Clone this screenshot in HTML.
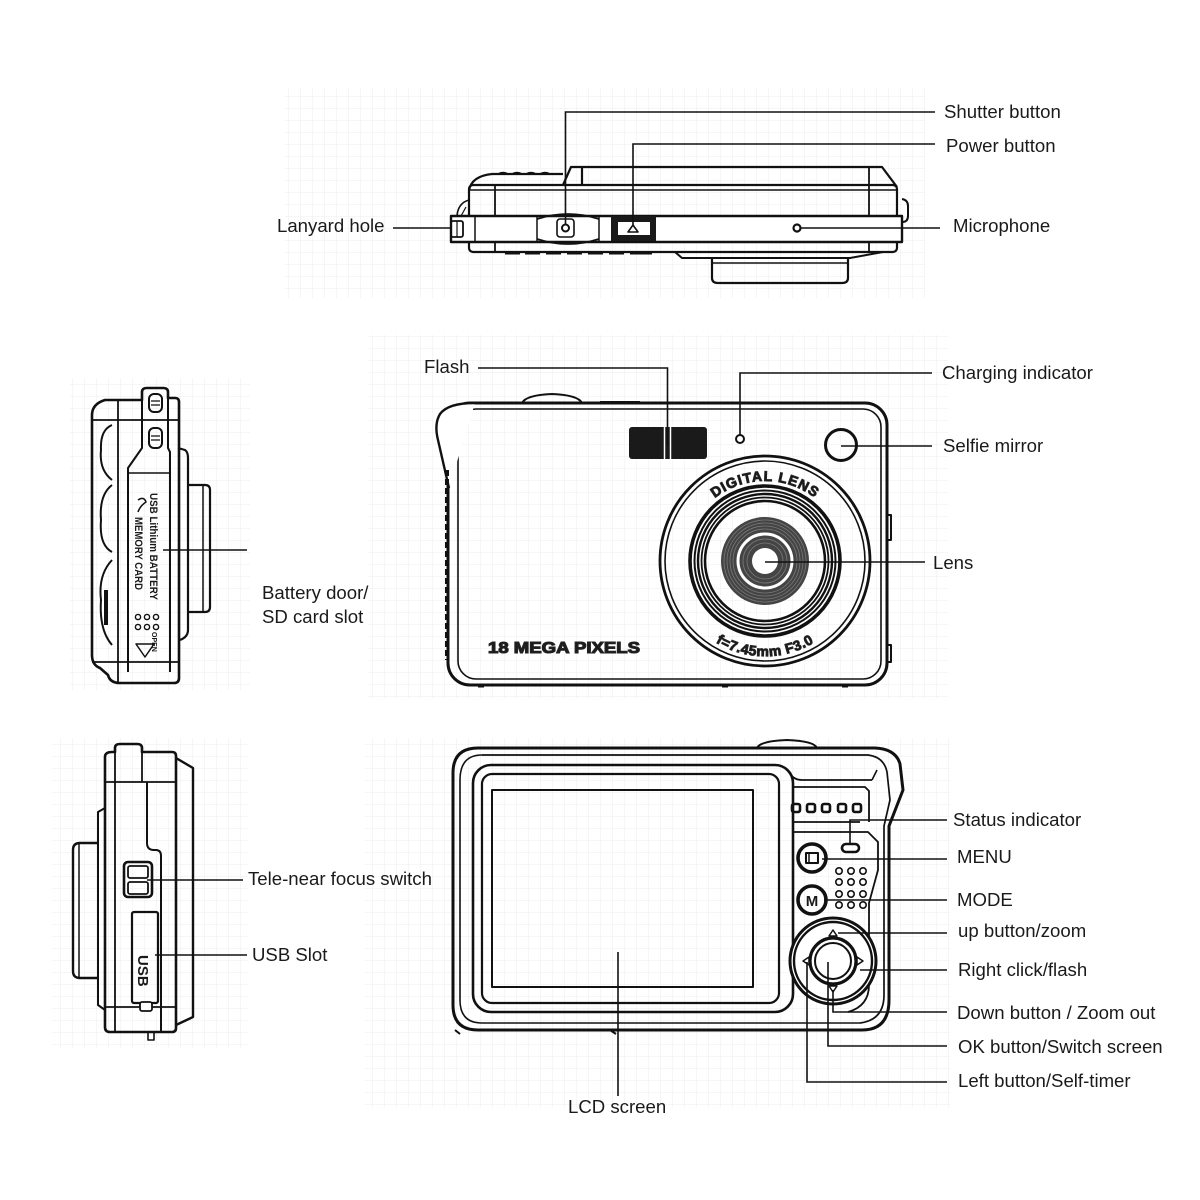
<!DOCTYPE html>
<html><head><meta charset="utf-8"><style>
html,body{margin:0;padding:0;background:#fff;}
svg{display:block;}
text{font-family:"Liberation Sans",Arial,sans-serif;fill:#1a1a1a;}
.lb{font-size:18.6px;}
</style></head><body>
<svg width="1200" height="1200" viewBox="0 0 1200 1200" xmlns="http://www.w3.org/2000/svg">
<defs>
<pattern id="g" width="12" height="12" patternUnits="userSpaceOnUse">
<path d="M12 0 L0 0 0 12" fill="none" stroke="#ececec" stroke-width="1"/>
</pattern>
</defs>
<rect width="1200" height="1200" fill="#fff"/>
<rect x="285" y="88" width="640" height="210" fill="url(#g)"/>
<rect x="368" y="335" width="580" height="363" fill="url(#g)"/>
<rect x="70" y="378" width="180" height="312" fill="url(#g)"/>
<rect x="365" y="738" width="585" height="370" fill="url(#g)"/>
<rect x="52" y="738" width="196" height="310" fill="url(#g)"/>

<!-- ============ TOP VIEW ============ -->
<g stroke="#111" stroke-width="2.2" fill="none" stroke-linejoin="round">
  <path d="M563 185 L571 167 L882 167 L897 187"/>
  <line x1="582" y1="167" x2="582" y2="185"/>
  <path d="M469 190 Q472 176 492 174 L563 174"/>
  <path d="M498 174 Q503 171 508 174 M512 174 Q517 171 522 174 M526 174 Q531 171 536 174 M540 174 Q545 171 550 174" stroke-width="1.6"/>
  <rect x="469" y="185" width="428" height="67" rx="4"/>
  <line x1="469" y1="190" x2="897" y2="190" stroke-width="1.5"/>
  <line x1="495" y1="185" x2="495" y2="252" stroke-width="1.8"/>
  <line x1="869" y1="167" x2="869" y2="252" stroke-width="1.8"/>
  <path d="M469 200 Q458 203 457 216" stroke-width="1.6"/>
  <path d="M466 207 L461 216" stroke-width="1.2"/>
  <rect x="451" y="216" width="451" height="26" fill="#fff" stroke-width="2.4"/>
  <line x1="475" y1="216" x2="475" y2="242" stroke-width="1.5"/>
  <line x1="537" y1="216" x2="537" y2="242" stroke-width="1.5"/>
  <line x1="599" y1="216" x2="599" y2="242" stroke-width="1.5"/>
  <path d="M537 219 Q568 209 599 219 M537 239 Q568 249 599 239" stroke-width="1.8"/>
  <rect x="557" y="219" width="17" height="18" rx="3" stroke-width="1.6"/>
  <circle cx="565.5" cy="228" r="3.5" stroke-width="2"/>
  <rect x="611" y="216" width="45" height="25" fill="#1a1a1a" stroke="none"/>
  <rect x="618" y="222" width="32" height="13" fill="#fff" stroke="none"/>
  <path d="M628 232 L633 225 L638 232 Z" stroke-width="1.6"/>
  <rect x="451" y="221" width="12" height="16" rx="2" stroke-width="1.8"/>
  <line x1="457" y1="221" x2="457" y2="237" stroke-width="1.2"/>
  <circle cx="797" cy="228" r="3.5" stroke-width="2.2"/>
  <path d="M902 199 Q908 200 908 206 L908 216 Q908 222 902 222" stroke-width="2"/>
  <path d="M505 253 L520 253 M525 253 L540 253 M546 253 L561 253 M567 253 L582 253 M588 253 L603 253 M609 253 L624 253 M630 253 L652 253" stroke-width="3"/>
  <path d="M675 252 L682 258 L850 258 L883 252" stroke-width="2"/>
  <path d="M712 258 L712 278 Q712 283 718 283 L842 283 Q848 283 848 278 L848 258" stroke-width="2.2"/>
  <line x1="712" y1="263" x2="848" y2="263" stroke-width="1.4"/>
</g>
<g stroke="#111" stroke-width="1.6" fill="none">
  <path d="M565.5 224 L565.5 112 L935 112"/>
  <path d="M633 226 L633 144 L935 144"/>
  <line x1="801" y1="228" x2="940" y2="228"/>
  <line x1="393" y1="228" x2="451" y2="228"/>
</g>

<!-- ============ FRONT VIEW ============ -->
<g stroke="#111" fill="none" stroke-linejoin="round">
  <path d="M522 403 Q526 395 552 394 Q578 395 582 403" stroke-width="2"/>
  <line x1="600" y1="402" x2="640" y2="402" stroke-width="2"/>
  <rect x="448" y="403" width="439" height="282" rx="22" stroke-width="3"/>
  <rect x="458" y="409" width="423" height="270" rx="18" stroke-width="1.6"/>
  <path d="M475 403 Q448 403 440 414 Q434 424 438 440 L449 488" stroke-width="2.4" fill="#fff"/>
  <path d="M447 470 L447 660" stroke-width="4" stroke-dasharray="6 3"/>
  <path d="M887 515 L891 515 L891 540 L887 540 M887 645 L891 645 L891 662 L887 662" stroke-width="2"/>
  <path d="M478 686 L484 686 M722 686 L728 686 M842 686 L848 686" stroke-width="3"/>
  <rect x="629" y="427" width="78" height="32" rx="3" fill="#1a1a1a" stroke="none"/>
  <line x1="664.5" y1="427" x2="664.5" y2="459" stroke="#fff" stroke-width="1.5"/>
  <line x1="670.5" y1="427" x2="670.5" y2="459" stroke="#fff" stroke-width="1.5"/>
  <circle cx="740" cy="439" r="4" stroke-width="2"/>
  <circle cx="841" cy="445" r="15.5" stroke-width="3"/>
  <!-- lens -->
  <circle cx="765" cy="561" r="105" stroke-width="2.8"/>
  <circle cx="765" cy="561" r="100" stroke-width="1.6"/>
  <circle cx="765" cy="561" r="75" stroke-width="3.6"/>
  <circle cx="765" cy="561" r="70.5" stroke-width="2"/>
  <circle cx="765" cy="561" r="67" stroke-width="2.4"/>
  <circle cx="765" cy="561" r="63.5" stroke-width="1.8"/>
  <circle cx="765" cy="561" r="60" stroke-width="2.6"/>
  <circle cx="765" cy="561" r="44" fill="#444" stroke="none"/>
  <g stroke="#7a7a7a" stroke-width="0.8">
    <circle cx="765" cy="561" r="41"/><circle cx="765" cy="561" r="38"/><circle cx="765" cy="561" r="35"/><circle cx="765" cy="561" r="32"/><circle cx="765" cy="561" r="22"/><circle cx="765" cy="561" r="18"/>
  </g>
  <circle cx="765" cy="561" r="27" stroke="#fff" stroke-width="3"/>
  <circle cx="765" cy="561" r="13" fill="#fff" stroke="none"/>
  <path id="arcTop" d="M706 506 A82 82 0 0 1 824 506" stroke="none"/>
  <path id="arcBot" d="M692 622 A95 95 0 0 0 838 622" stroke="none"/>
</g>
<text font-size="14" font-weight="bold" fill="#fff" stroke="#222" stroke-width="0.9" letter-spacing="1"><textPath href="#arcTop" startOffset="50%" text-anchor="middle">DIGITAL LENS</textPath></text>
<text font-size="14" font-weight="bold" fill="#fff" stroke="#222" stroke-width="0.9" letter-spacing="0.5"><textPath href="#arcBot" startOffset="50%" text-anchor="middle">f=7.45mm F3.0</textPath></text>
<text x="488" y="653" font-size="15.5" font-weight="bold" fill="#fff" stroke="#222" stroke-width="1.1" textLength="152" lengthAdjust="spacingAndGlyphs">18 MEGA PIXELS</text>
<g stroke="#111" stroke-width="1.6" fill="none">
  <path d="M478 368 L667.5 368 L667.5 445"/>
  <path d="M740 435 L740 373 L932 373"/>
  <line x1="841" y1="446" x2="932" y2="446"/>
  <line x1="765" y1="562" x2="925" y2="562"/>
</g>

<!-- ============ LEFT SIDE (battery) ============ -->
<g stroke="#111" fill="none" stroke-linejoin="round">
  <path d="M178 448 L185 450 Q188 452 188 458 L188 630 Q188 637 180 640" stroke-width="2.2"/>
  <path d="M188 485 L205 485 Q210 485 210 490 L210 607 Q210 612 205 612 L188 612" stroke-width="2.2"/>
  <line x1="203" y1="485" x2="203" y2="612" stroke-width="1.5"/>
  <path d="M105 400 L142 400 L142 392 Q142 388 147 388 L163 388 Q168 388 168 392 L168 398 L175 398 Q179 398 179 402 L179 678 Q179 683 174 683 L120 683 Q110 683 108 675 L100 668 Q92 665 92 655 L92 415 Q92 404 105 400 Z" stroke-width="2.6"/>
  <line x1="118" y1="400" x2="118" y2="683" stroke-width="1.8"/>
  <line x1="92" y1="420" x2="179" y2="420" stroke-width="1.8"/>
  <line x1="92" y1="662" x2="179" y2="662" stroke-width="1.8"/>
  <path d="M142 400 L142 448 L128 468 L128 672" stroke-width="2"/>
  <path d="M168 398 L168 448 L170 452 L170 672" stroke-width="2"/>
  <line x1="128" y1="473" x2="170" y2="473" stroke-width="1.6"/>
  <rect x="149" y="394" width="13" height="18" rx="5" stroke-width="2"/>
  <path d="M151 401 L160 401 M151 405 L160 405" stroke-width="1.2"/>
  <rect x="149" y="428" width="13" height="20" rx="5" stroke-width="2"/>
  <path d="M151 436 L160 436 M151 440 L160 440" stroke-width="1.2"/>
  <path d="M112 425 Q100 430 101 450 Q99 470 112 480 M112 485 Q99 495 101 520 Q99 545 112 552 M112 560 Q98 575 101 600 Q99 630 112 645" stroke-width="2"/>
  <path d="M106 590 L106 625" stroke-width="4"/>
  <path d="M138 500 Q144 496 146 502 Q140 506 138 512" stroke-width="1.5"/>
  <g stroke-width="1.4">
    <circle cx="138" cy="617" r="2.6"/><circle cx="147" cy="617" r="2.6"/><circle cx="156" cy="617" r="2.6"/>
    <circle cx="138" cy="627" r="2.6"/><circle cx="147" cy="627" r="2.6"/><circle cx="156" cy="627" r="2.6"/>
  </g>
  <path d="M136 644 L154 644 L145 657 Z" stroke-width="1.5"/>
</g>
<text transform="translate(150,493) rotate(90)" font-size="11" font-weight="bold" textLength="107" lengthAdjust="spacingAndGlyphs">USB Lithium BATTERY</text>
<text transform="translate(135,517) rotate(90)" font-size="11" font-weight="bold" textLength="73" lengthAdjust="spacingAndGlyphs">MEMORY CARD</text>
<text transform="translate(152,632) rotate(90)" font-size="7" font-weight="bold">OPEN</text>
<line x1="163" y1="550" x2="247" y2="550" stroke="#111" stroke-width="1.6"/>

<!-- ============ LEFT SIDE (USB) ============ -->
<g stroke="#111" fill="none" stroke-linejoin="round">
  <path d="M176 758 L193 768 L193 1017 L176 1025" stroke-width="2.4"/>
  <path d="M105 808 L98 812 L98 1005 L105 1010" stroke-width="2"/>
  <path d="M98 843 L80 843 Q73 843 73 850 L73 971 Q73 978 80 978 L98 978" stroke-width="2.4"/>
  <line x1="79" y1="843" x2="79" y2="978" stroke-width="1.5"/>
  <path d="M112 752 L115 752 L115 748 Q115 744 120 744 L137 744 Q142 744 142 748 L142 752 L172 752 Q176 752 176 756 L176 1028 Q176 1032 172 1032 L110 1032 Q105 1032 105 1027 L105 757 Q105 752 112 752 Z" stroke-width="2.6"/>
  <line x1="115" y1="748" x2="115" y2="1032" stroke-width="1.8"/>
  <line x1="105" y1="782" x2="176" y2="782" stroke-width="1.8"/>
  <line x1="105" y1="1007" x2="176" y2="1007" stroke-width="1.8"/>
  <line x1="142" y1="752" x2="142" y2="782" stroke-width="1.8"/>
  <path d="M147 782 L147 843 Q147 850 154 850 L156 850 Q161 850 161 856 L161 1032" stroke-width="2"/>
  <rect x="124" y="862" width="28" height="35" rx="4" stroke-width="2.6"/>
  <rect x="128" y="866" width="20" height="12" rx="2" stroke-width="1.8"/>
  <rect x="128" y="882" width="20" height="12" rx="2" stroke-width="1.8"/>
  <rect x="132" y="912" width="26" height="91" rx="2" stroke-width="2.2"/>
  <rect x="140" y="1002" width="12" height="9" rx="2" stroke-width="1.8" fill="#fff"/>
  <path d="M148 1032 L148 1040 L154 1040 L154 1032" stroke-width="1.6"/>
</g>
<text transform="translate(138,955) rotate(90)" font-size="15" font-weight="bold">USB</text>
<g stroke="#111" stroke-width="1.6">
  <line x1="147" y1="880" x2="243" y2="880"/>
  <line x1="155" y1="955" x2="247" y2="955"/>
</g>

<!-- ============ BACK VIEW ============ -->
<g stroke="#111" fill="none" stroke-linejoin="round">
  <path d="M757 748 Q760 741 787 740 Q814 741 817 748" stroke-width="2"/>
  <path d="M478 748 L875 748 Q896 749 900 764 L903 790 L889 826 L889 1000 Q889 1030 862 1030 L478 1030 Q453 1030 453 1005 L453 773 Q453 748 478 748 Z" stroke-width="3"/>
  <path d="M482 755 L868 755 Q884 757 887 772 L890 800 L884 826 L884 995 Q884 1020 860 1023" stroke-width="1.7"/>
  <path d="M460 780 Q460 755 482 755 M460 780 L460 1000 Q460 1023 482 1023 L860 1023" stroke-width="1.6"/>
  <rect x="473" y="765" width="320" height="247" rx="18" stroke-width="2.6"/>
  <rect x="482" y="774" width="297" height="229" rx="10" stroke-width="2.2"/>
  <rect x="492" y="790" width="261" height="197" stroke-width="2"/>
  <!-- control panel -->
  <path d="M788 770 Q792 780 802 780 L872 780" stroke-width="1.8"/>
  <path d="M793 787 L865 787 L869 791 L869 822" stroke-width="1.8"/>
  <line x1="793" y1="822" x2="860" y2="822" stroke-width="1.8"/>
  <path d="M793 832 L868 832 L878 842 L878 870 L869 903 L869 985 Q869 1006 848 1012" stroke-width="1.8"/>
  <path d="M872 780 L877 770" stroke-width="1.6"/>
  <path d="M455 1030 L460 1034 M610 1030 L616 1034" stroke-width="2"/>
  <g stroke-width="2.6">
    <rect x="792" y="804" width="8" height="8" rx="2"/><rect x="807" y="804" width="8" height="8" rx="2"/>
    <rect x="822" y="804" width="8" height="8" rx="2"/><rect x="838" y="804" width="8" height="8" rx="2"/>
    <rect x="853" y="804" width="8" height="8" rx="2"/>
  </g>
  <rect x="842" y="844" width="17" height="8" rx="4" stroke-width="2.6"/>
  <circle cx="812" cy="858" r="14" stroke-width="3.6"/>
  <rect x="806" y="853" width="12" height="10" stroke-width="2"/>
  <line x1="809" y1="853" x2="809" y2="863" stroke-width="1.5"/>
  <circle cx="812" cy="900" r="14" stroke-width="3.6"/>
  <g stroke-width="1.6">
    <circle cx="839" cy="871" r="3.2"/><circle cx="851" cy="871" r="3.2"/><circle cx="863" cy="871" r="3.2"/>
    <circle cx="839" cy="882" r="3.2"/><circle cx="851" cy="882" r="3.2"/><circle cx="863" cy="882" r="3.2"/>
    <circle cx="839" cy="894" r="3.2"/><circle cx="851" cy="894" r="3.2"/><circle cx="863" cy="894" r="3.2"/>
    <circle cx="839" cy="905" r="3.2"/><circle cx="851" cy="905" r="3.2"/><circle cx="863" cy="905" r="3.2"/>
  </g>
  <circle cx="833" cy="961" r="43" stroke-width="3" fill="#fff"/>
  <circle cx="833" cy="961" r="39" stroke-width="2.4"/>
  <circle cx="833" cy="961" r="23" stroke-width="3.2"/>
  <circle cx="833" cy="961" r="18" stroke-width="2"/>
  <g stroke-width="1.5">
    <path d="M829 936 L833 930 L837 936 Z"/>
    <path d="M829 986 L833 992 L837 986 Z"/>
    <path d="M809 957 L803 961 L809 965 Z"/>
    <path d="M857 957 L863 961 L857 965 Z"/>
  </g>
</g>
<text x="812" y="906" font-size="15" font-weight="bold" text-anchor="middle">M</text>
<g stroke="#111" stroke-width="1.6" fill="none">
  <path d="M850 844 L850 820 L947 820"/>
  <line x1="822" y1="859" x2="947" y2="859"/>
  <line x1="824" y1="900" x2="947" y2="900"/>
  <line x1="838" y1="933" x2="947" y2="933"/>
  <line x1="860" y1="970" x2="947" y2="970"/>
  <path d="M833 990 L833 1012 L947 1012"/>
  <path d="M828 962 L828 1046 L947 1046"/>
  <path d="M807 962 L807 1082 L947 1082"/>
  <line x1="618" y1="952" x2="618" y2="1096"/>
</g>

<!-- ============ LABELS ============ -->
<g>
<text class="lb" x="944" y="118">Shutter button</text>
<text class="lb" x="946" y="152">Power button</text>
<text class="lb" x="953" y="232">Microphone</text>
<text class="lb" x="277" y="232">Lanyard hole</text>
<text class="lb" x="424" y="373">Flash</text>
<text class="lb" x="942" y="379">Charging indicator</text>
<text class="lb" x="943" y="452">Selfie mirror</text>
<text class="lb" x="933" y="569">Lens</text>
<text class="lb" x="262" y="599">Battery door/</text>
<text class="lb" x="262" y="623">SD card slot</text>
<text class="lb" x="248" y="885">Tele-near focus switch</text>
<text class="lb" x="252" y="961">USB Slot</text>
<text class="lb" x="953" y="826">Status indicator</text>
<text class="lb" x="957" y="863">MENU</text>
<text class="lb" x="957" y="906">MODE</text>
<text class="lb" x="958" y="937">up button/zoom</text>
<text class="lb" x="958" y="976">Right click/flash</text>
<text class="lb" x="957" y="1019">Down button / Zoom out</text>
<text class="lb" x="958" y="1053">OK button/Switch screen</text>
<text class="lb" x="958" y="1087">Left button/Self-timer</text>
<text class="lb" x="568" y="1113">LCD screen</text>
</g>
</svg>
</body></html>
